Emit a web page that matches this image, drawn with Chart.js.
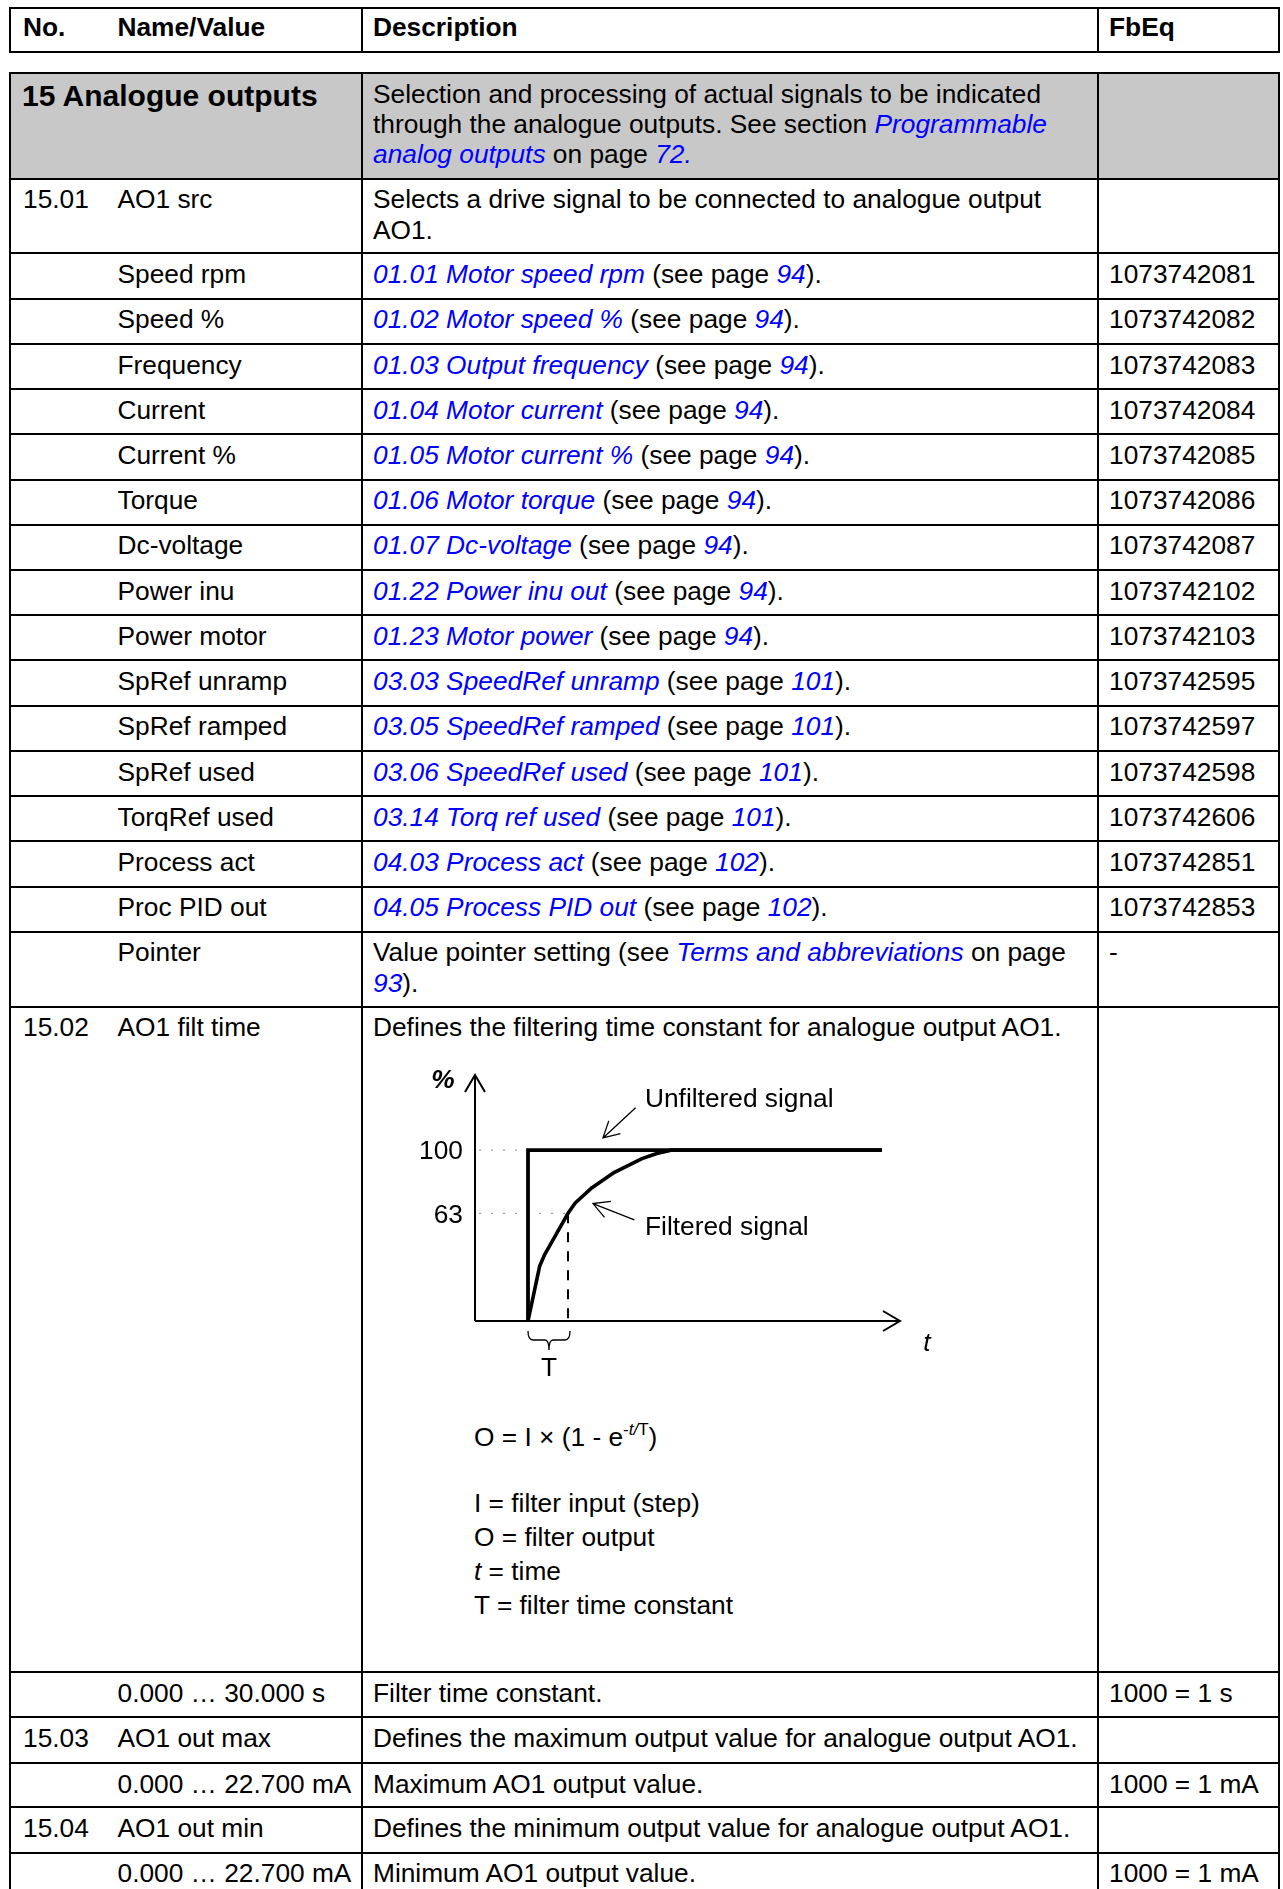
<!DOCTYPE html>
<html><head><meta charset="utf-8">
<script src="https://cdn.jsdelivr.net/npm/chart.js@4.4.1/dist/chart.umd.min.js"></script>
<style>
html,body{margin:0;padding:0;background:#fff;}
body{width:1283px;height:1889px;position:relative;overflow:hidden;font-family:'Liberation Sans',Arial,sans-serif;font-size:26.3px;color:#000;}
.ln{position:absolute;background:#000;}
.t{position:absolute;white-space:nowrap;line-height:31px;}
.l{color:#0000ff;font-style:italic;}
sup{font-size:17px;line-height:0;vertical-align:11px;}
</style></head><body>
<div id="page"></div>
<div id="chartBox" style="position:absolute;left:400px;top:1050px;width:560px;height:340px;"><canvas id="c" width="560" height="340"></canvas></div>
<script>
// ---------- chart data ----------
const filteredT   = [0, 0.29, 0.42, 1.0, 1.18, 1.6, 2.16, 2.85, 3.22, 3.6, 8.85];
const filteredPct = [0, 32,   39,   63,  69,   78,  87,   95,   98,   100, 100];
const unfilteredT   = [0, 0, 8.85];
const unfilteredPct = [0, 100, 100];
const tickValues = [63, 100];
const tickLabels = ['63', '100'];
const guideEndT  = [1, 0];          // dotted guide from y-axis to curve (t/T)
const timeConstant = 1;             // t = T
const xMin = -1.325, xMax = 9.3, yMax = 143.9;
const seriesNames = ['Unfiltered signal', 'Filtered signal'];

// ---------- table text ----------
const L = 9, R = 1280, C1 = 362, C2 = 1098;
const rowLines = [73.3,178.5,253.3,298.5,343.8,389,434.2,479.5,524.7,569.9,615.2,660.4,705.6,750.8,796.1,841.3,886.5,931.7,1006.5,1672,1717.3,1762.8,1807.3,1852.5,1898];
const lk = s => '<span class="l">'+s+'</span>';
const rows = [
  ['15.01','AO1 src','Selects a drive signal to be connected to analogue output<br>AO1.',''],
  ['','Speed rpm',lk('01.01 Motor speed rpm')+' (see page '+lk('94')+').','1073742081'],
  ['','Speed %',lk('01.02 Motor speed %')+' (see page '+lk('94')+').','1073742082'],
  ['','Frequency',lk('01.03 Output frequency')+' (see page '+lk('94')+').','1073742083'],
  ['','Current',lk('01.04 Motor current')+' (see page '+lk('94')+').','1073742084'],
  ['','Current %',lk('01.05 Motor current %')+' (see page '+lk('94')+').','1073742085'],
  ['','Torque',lk('01.06 Motor torque')+' (see page '+lk('94')+').','1073742086'],
  ['','Dc-voltage',lk('01.07 Dc-voltage')+' (see page '+lk('94')+').','1073742087'],
  ['','Power inu',lk('01.22 Power inu out')+' (see page '+lk('94')+').','1073742102'],
  ['','Power motor',lk('01.23 Motor power')+' (see page '+lk('94')+').','1073742103'],
  ['','SpRef unramp',lk('03.03 SpeedRef unramp')+' (see page '+lk('101')+').','1073742595'],
  ['','SpRef ramped',lk('03.05 SpeedRef ramped')+' (see page '+lk('101')+').','1073742597'],
  ['','SpRef used',lk('03.06 SpeedRef used')+' (see page '+lk('101')+').','1073742598'],
  ['','TorqRef used',lk('03.14 Torq ref used')+' (see page '+lk('101')+').','1073742606'],
  ['','Process act',lk('04.03 Process act')+' (see page '+lk('102')+').','1073742851'],
  ['','Proc PID out',lk('04.05 Process PID out')+' (see page '+lk('102')+').','1073742853'],
  ['','Pointer','Value pointer setting (see '+lk('Terms and abbreviations')+' on page<br>'+lk('93')+').','-'],
  ['15.02','AO1 filt time','Defines the filtering time constant for analogue output AO1.',''],
  ['','0.000 … 30.000 s','Filter time constant.','1000 = 1 s'],
  ['15.03','AO1 out max','Defines the maximum output value for analogue output AO1.',''],
  ['','0.000 … 22.700 mA','Maximum AO1 output value.','1000 = 1 mA'],
  ['15.04','AO1 out min','Defines the minimum output value for analogue output AO1.',''],
  ['','0.000 … 22.700 mA','Minimum AO1 output value.','1000 = 1 mA']
];

const page = document.getElementById('page');
function add(html, style, cls){ const d=document.createElement('div'); d.className=cls||''; d.setAttribute('style',style); d.innerHTML=html; page.appendChild(d); return d; }
function hline(y,x1,x2){ add('', 'left:'+x1+'px;top:'+(y-1)+'px;width:'+(x2-x1)+'px;height:2px;', 'ln'); }
function vline(x,y1,y2){ add('', 'left:'+(x-1)+'px;top:'+y1+'px;width:2px;height:'+(y2-y1)+'px;', 'ln'); }
function text(x, base, html, extra, lh){ lh = lh||31; const top = base - (lh-29.4)/2 - 23.8; add(html, 'left:'+x+'px;top:'+top+'px;line-height:'+lh+'px;'+(extra||''), 't'); }

const XN = 23, XV = 117.5, XD = 373, XF = 1109;
// header box
hline(8,L,R); hline(52,L,R); vline(10,7,53); vline(1279,7,53); vline(C1,7,53); vline(C2,7,53);
text(XN,36.3,'No.','font-weight:bold;'); text(XV,36.3,'Name/Value','font-weight:bold;');
text(XD,36.3,'Description','font-weight:bold;'); text(XF,36.3,'FbEq','font-weight:bold;');

// gray section row
add('', 'position:absolute;left:10px;top:73px;width:1269px;height:105px;background:#c8c8c8;', '');
text(22,104.3,'15 Analogue outputs','font-weight:bold;font-size:30px;');
text(XD,104,'Selection and processing of actual signals to be indicated<br>through the analogue outputs. See section '+lk('Programmable')+'<br>'+lk('analog outputs')+' on page '+lk('72.'),'',29.8);

// rows
rows.forEach((r,i)=>{
  const top = rowLines[i+1];
  const base = top + 30.3;
  if(r[0]) text(XN,base,r[0]);
  text(XV,base,r[1]);
  text(XD,base,r[2]);
  if(r[3]) text(XF,base,r[3]);
});
// lines of main table
rowLines.forEach(y=>hline(y,L,R));
vline(10,72.3,1889); vline(1279,72.3,1889); vline(C1,72.3,1889); vline(C2,72.3,1889);

// formula block
text(474,1447,'O = I × (1 - e<sup>-<i>t/</i>T</sup>)');
text(474,1513,'I = filter input (step)');
text(474,1547,'O = filter output');
text(474,1581,'<i>t</i> = time');
text(474,1615,'T = filter time constant');

// ---------- chart ----------
const FONT = "'Liberation Sans', Arial, sans-serif";
const annotations = [
  {text: seriesNames[0], x: 2.925, y: 129.2, from: [2.69, 124.7], to: [1.875, 107.1]},
  {text: seriesNames[1], x: 2.925, y: 54.4,  from: [2.66, 59.1],  to: [1.625, 68.7]}
];
function arrowHead(ctx, tx, ty, fx, fy, len, ang){
  const a = Math.atan2(fy-ty, fx-tx);
  ctx.moveTo(tx+len*Math.cos(a+ang), ty+len*Math.sin(a+ang));
  ctx.lineTo(tx,ty);
  ctx.lineTo(tx+len*Math.cos(a-ang), ty+len*Math.sin(a-ang));
}
const diagramPlugin = {
  id:'diagram',
  beforeDatasetsDraw(chart){
    const {ctx, scales:{x,y}} = chart;
    const x0 = x.getPixelForValue(xMin), y0 = y.getPixelForValue(0);
    const xEnd = x.getPixelForValue(xMax), yTop = y.getPixelForValue(yMax);
    ctx.save();
    ctx.strokeStyle = '#888'; ctx.lineWidth = 1; ctx.setLineDash([2,10]);
    tickValues.forEach((v,i)=>{ const yy = y.getPixelForValue(v); ctx.beginPath(); ctx.moveTo(x0+4,yy); ctx.lineTo(x.getPixelForValue(guideEndT[i]),yy); ctx.stroke(); });
    ctx.strokeStyle = '#000'; ctx.lineWidth = 2; ctx.setLineDash([10,9]);
    const xT = x.getPixelForValue(timeConstant);
    ctx.beginPath(); ctx.moveTo(xT, y.getPixelForValue(63)); ctx.lineTo(xT, y0); ctx.stroke();
    ctx.setLineDash([]);
    ctx.beginPath(); ctx.moveTo(x0,y0); ctx.lineTo(xEnd,y0); ctx.moveTo(x0,y0); ctx.lineTo(x0,yTop); ctx.stroke();
    ctx.beginPath();
    ctx.moveTo(xEnd-17,y0-10); ctx.lineTo(xEnd,y0); ctx.lineTo(xEnd-17,y0+10);
    ctx.moveTo(x0-10,yTop+17); ctx.lineTo(x0,yTop); ctx.lineTo(x0+10,yTop+17);
    ctx.stroke();
    ctx.restore();
  },
  afterDatasetsDraw(chart){
    const {ctx, scales:{x,y}} = chart;
    const x0 = x.getPixelForValue(xMin), y0 = y.getPixelForValue(0);
    const xEnd = x.getPixelForValue(xMax), yTop = y.getPixelForValue(yMax);
    ctx.save();
    ctx.fillStyle = '#000';
    ctx.font = '26.3px ' + FONT; ctx.textBaseline = 'middle';
    ctx.textAlign = 'right';
    tickValues.forEach((v,i)=>ctx.fillText(tickLabels[i], x0-12, y.getPixelForValue(v)+2));
    ctx.textAlign = 'left';
    annotations.forEach(a=>ctx.fillText(a.text, x.getPixelForValue(a.x), y.getPixelForValue(a.y)));
    ctx.textAlign = 'center';
    ctx.fillText('T', (x.getPixelForValue(0)+x.getPixelForValue(timeConstant))/2+1, y0+48);
    ctx.font = 'italic 26.3px ' + FONT;
    ctx.fillText('t', xEnd+27, y0+23);
    ctx.font = 'italic bold 26.3px ' + FONT;
    ctx.fillText('%', x0-32, yTop+6);
    // annotation arrows
    ctx.strokeStyle = '#000'; ctx.lineWidth = 1.3;
    annotations.forEach(a=>{
      const fx = x.getPixelForValue(a.from[0]), fy = y.getPixelForValue(a.from[1]);
      const tx = x.getPixelForValue(a.to[0]), ty = y.getPixelForValue(a.to[1]);
      ctx.beginPath(); ctx.moveTo(fx,fy); ctx.lineTo(tx,ty);
      arrowHead(ctx, tx, ty, fx, fy, 18, 0.5);
      ctx.stroke();
    });
    // brace under T
    const xs = x.getPixelForValue(0), xe = x.getPixelForValue(timeConstant)+2, xm = (xs+xe)/2;
    const yA = y0+10, yB = y0+19, yC = y0+29;
    ctx.lineWidth = 1.3;
    ctx.beginPath();
    ctx.moveTo(xs,yA); ctx.quadraticCurveTo(xs,yB,xs+5,yB); ctx.lineTo(xm-4,yB);
    ctx.quadraticCurveTo(xm,yB,xm,yC); ctx.quadraticCurveTo(xm,yB,xm+4,yB);
    ctx.lineTo(xe-5,yB); ctx.quadraticCurveTo(xe,yB,xe,yA);
    ctx.stroke();
    ctx.restore();
  }
};
const toPts = (xs, ys) => xs.map((v,i)=>({x:v, y:ys[i]}));
new Chart(document.getElementById('c'), {
  type: 'scatter',
  data: { datasets: [
    { label: seriesNames[0], data: toPts(unfilteredT, unfilteredPct), showLine: true, borderColor: '#000', backgroundColor: '#000', borderWidth: 3.8, pointRadius: 0, tension: 0, borderJoinStyle: 'miter', borderCapStyle: 'butt' },
    { label: seriesNames[1], data: toPts(filteredT, filteredPct), showLine: true, borderColor: '#000', backgroundColor: '#000', borderWidth: 3.6, pointRadius: 0, tension: 0, borderJoinStyle: 'round' }
  ]},
  options: {
    responsive: false, animation: false, devicePixelRatio: 1,
    layout: { padding: { left: 75, right: 60, top: 25, bottom: 69 } },
    plugins: { legend: { display: false }, tooltip: { enabled: false } },
    scales: {
      x: { type: 'linear', min: xMin, max: xMax, display: false },
      y: { type: 'linear', min: 0, max: yMax, display: false }
    }
  },
  plugins: [diagramPlugin]
});
</script>
</body></html>
